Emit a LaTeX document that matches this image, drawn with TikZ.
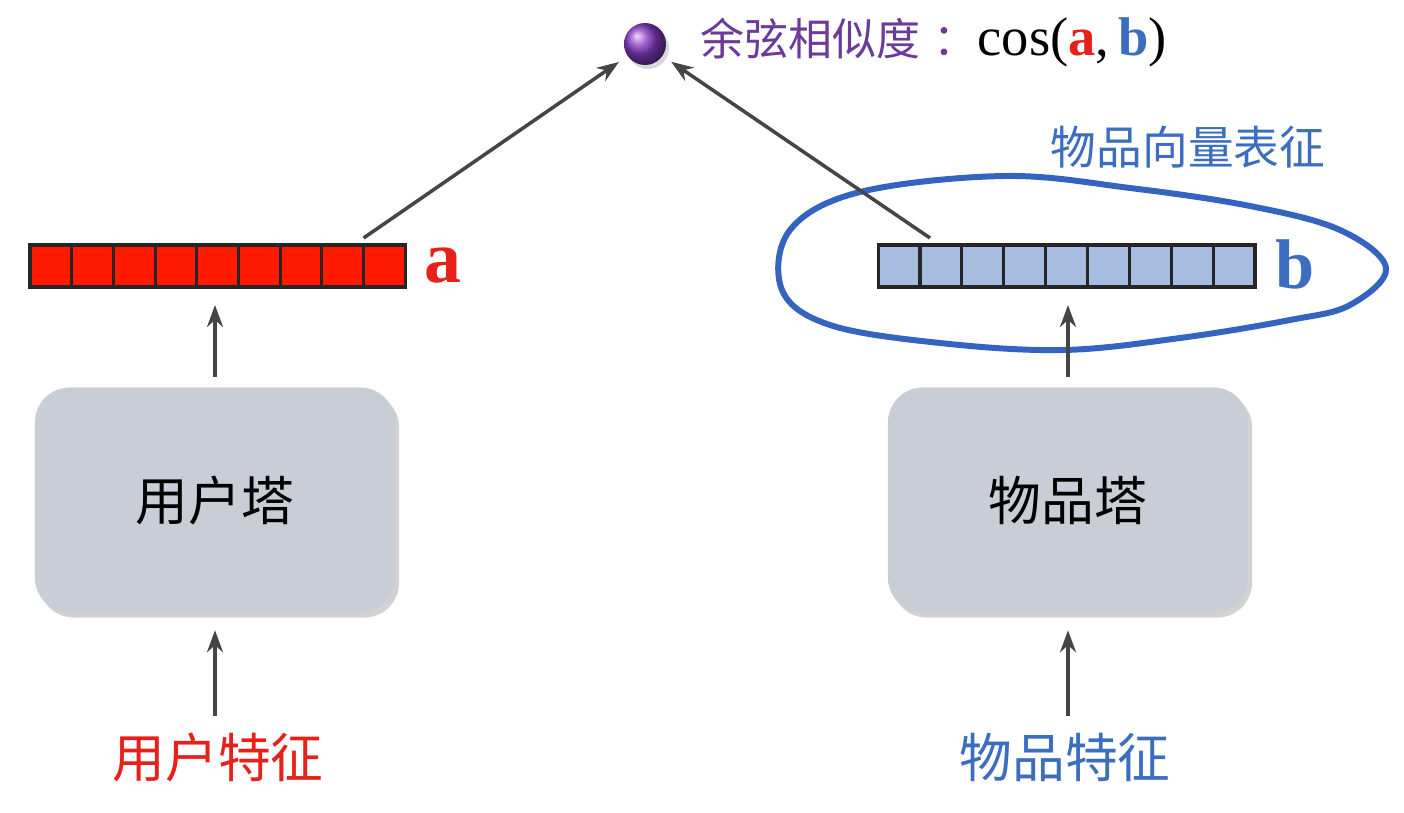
\documentclass[tikz,border=0pt]{standalone}
\usepackage{fontspec}
\setmainfont{Liberation Serif}
\newfontfamily\cjk{Noto Sans CJK SC}
\usetikzlibrary{arrows.meta,shadows,positioning}

\definecolor{vecred}{HTML}{FF1A00}
\definecolor{labred}{HTML}{E8201A}
\definecolor{vecblue}{HTML}{A7BDE0}
\definecolor{labblue}{HTML}{3C6EBF}
\definecolor{ringblue}{HTML}{3464C0}
\definecolor{simpurple}{HTML}{6B3A9A}
\definecolor{ballpurple}{HTML}{8A3CC8}
\definecolor{towergray}{HTML}{C9CED6}
\definecolor{arrowgray}{HTML}{454545}

\tikzset{
  cell/.style={draw=black!85,line width=0.9pt,minimum width=0.417cm,
    minimum height=0.42cm,inner sep=0pt,outer sep=0pt},
  tower/.style={fill=towergray,rounded corners=0.35cm,minimum width=3.6cm,
    minimum height=2.25cm,drop shadow={shadow xshift=0.04cm,shadow yshift=-0.05cm,opacity=0.35},
    font=\cjk\fontsize{15}{17}\selectfont},
  flow/.style={draw=arrowgray,line width=1pt,-{Stealth[length=0.22cm,width=0.16cm]}},
  feat/.style={font=\cjk\fontsize{15}{17}\selectfont},
}

\begin{document}
\begin{tikzpicture}[x=0.01cm,y=-0.01cm]
  \useasboundingbox[fill=white] (0,0) rectangle (1404,812);

  % similarity
  \node[circle,minimum size=0.42cm,inner sep=0pt,ball color=ballpurple,
    drop shadow={shadow xshift=0.03cm,shadow yshift=-0.04cm,opacity=0.3}] (sim) at (645,44) {};
  \node[anchor=west,inner sep=0pt] (simtext) at (700,42)
    {{\cjk\fontsize{12.5}{14}\selectfont\color{simpurple}余弦相似度\hspace{0.3em}：}{\fontsize{15.5}{18}\selectfont cos(\textcolor{labred}{\textbf{a}},\,\textcolor{labblue}{\textbf{b}})}};

  % vectors
  \foreach \i in {1,...,9} {
    \node[cell,fill=vecred] (a\i) at ({30+41.7*(\i-0.5)},266) {};
    \node[cell,fill=vecblue] (b\i) at ({878+41.9*(\i-0.5)},266) {};
  }
  \node[text=labred,font=\bfseries\fontsize{21}{23}\selectfont] (alab) at (443,266) {a};
  \node[text=labblue,font=\bfseries\fontsize{20}{22}\selectfont] (blab) at (1295,264) {b};

  % item embedding ring
  \draw[ringblue,line width=1.7pt] plot[smooth cycle,tension=0.6] coordinates {
    (790,230) (860,192) (1005,176) (1130,188) (1250,206) (1340,230)
    (1386,268) (1350,305) (1290,320) (1180,338) (1063,350) (940,343)
    (830,325) (782,290)};
  \node[text=labblue,font=\cjk\fontsize{13}{15}\selectfont] (ringlab) at (1188,147) {物品向量表征};

  % towers
  \node[tower] (utower) at (215,500) {用户塔};
  \node[tower] (itower) at (1068,500) {物品塔};

  % features
  \node[feat,text=labred] (ufeat) at (218,757) {用户特征};
  \node[feat,text=labblue] (ifeat) at (1065,757) {物品特征};

  % connectors
  \draw[flow,shorten >=0.1cm] ([yshift=0.07cm]a9.north west) -- (sim);
  \draw[flow,shorten >=0.1cm] ([xshift=0.1cm,yshift=0.07cm]b2.north west) -- (sim);
  \draw[flow,shorten <=0.1cm,shorten >=0.18cm] (utower.north) -- (utower.north |- a5.south);
  \draw[flow,shorten <=0.1cm,shorten >=0.18cm] (itower.north) -- (itower.north |- b5.south);
  \draw[flow,shorten <=0.04cm,shorten >=0.17cm] (ufeat.north -| utower.south) -- (utower.south);
  \draw[flow,shorten <=0.04cm,shorten >=0.17cm] (ifeat.north -| itower.south) -- (itower.south);
\end{tikzpicture}
\end{document}
